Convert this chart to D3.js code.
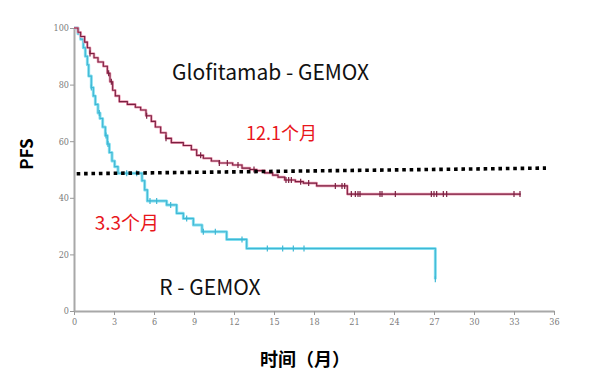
<!DOCTYPE html>
<html><head><meta charset="utf-8">
<script src="https://cdn.jsdelivr.net/npm/d3@7"></script>
<style>
html,body{margin:0;padding:0;background:#fff;}
svg{display:block;}
</style></head>
<body>
<svg id="chart" width="590" height="384"></svg>
<script>
// ---- data ----
const xTicks = [0,3,6,9,12,15,18,21,24,27,30,33,36];
const yTicks = [0,20,40,60,80,100];

const glofTime = [0,0.3,0.5,0.8,1.0,1.2,1.5,1.8,2.2,2.5,2.7,2.9,3.1,3.4,4.0,4.6,5.0,5.4,5.8,6.1,6.5,6.9,7.3,8.2,8.8,9.2,9.7,10.3,10.9,11.9,12.6,13.2,13.7,14.3,14.9,15.3,15.8,16.6,17.2,18.2,20.5,33.5];
const glofSurv = [100,98.5,97,95,93,91,89.5,88,86.5,84,81,78,76,74,73,72,71,69,67,65,63,61,59.5,58.5,57,55,54,53,52.3,51.6,50.5,50,49.6,48.8,48,47.3,46.3,45.7,45.2,44.2,41.3,41.3];
const glofCensor = [1.2,2.6,2.8,5.45,6.9,9.5,10.9,11.5,12.3,13.5,15.9,16.1,16.3,17.0,17.6,19.6,20.1,20.3,20.8,21.1,21.3,21.45,22.95,23.1,24.1,26.8,27.0,27.2,27.7,27.95,33.0,33.45];

const rTime = [0,0.3,0.5,0.7,0.85,1.0,1.1,1.3,1.45,1.6,1.8,1.95,2.15,2.35,2.5,2.65,2.85,3.05,3.3,5.1,5.3,5.5,6.95,7.7,8.2,8.95,9.6,11.45,12.95,27.1];
const rSurv = [100,98,96,93,90,87,83,79,76,73,70,68,65,62,59,56,53,51,48.7,46,42.8,38.9,37.5,34.5,32.7,30.4,28,25.3,22.1,11.2];
const rCensor = [1.3,1.9,2.4,2.55,3.95,4.7,5.7,6.2,7.25,8.45,9.7,10.6,12.6,14.5,15.65,16.45,17.25,27.1];

const medianLine = [[0.2,48.5],[35.4,50.5]];

const labels = [
  {text:"Glofitamab - GEMOX", t:7.35, s:81.8, color:"#111", size:21},
  {text:"12.1个月", t:12.9, s:60.3, color:"#e8161b", size:18},
  {text:"3.3个月", t:1.55, s:28.5, color:"#e8161b", size:19},
  {text:"R - GEMOX", t:6.4, s:5.7, color:"#111", size:21}
];
const yTitle = "PFS";
const xTitle = "时间（月）";

// ---- chart ----
const svg = d3.select("#chart");
const x = d3.scaleLinear().domain([0,36]).range([74,554]);
const y = d3.scaleLinear().domain([0,100]).range([311,28]);

// axes
const xAxis = svg.append("g").attr("transform","translate(0,311)")
  .call(d3.axisBottom(x).tickValues(xTicks).tickSize(4).tickSizeOuter(0));
const yAxis = svg.append("g").attr("transform","translate(74,0)")
  .call(d3.axisLeft(y).tickValues(yTicks).tickSize(4).tickSizeOuter(0));
[xAxis,yAxis].forEach(a=>{
  a.select(".domain").attr("stroke","#a8a8a8").attr("stroke-width",2);
  a.selectAll(".tick line").attr("stroke","#999").attr("stroke-width",1);
  a.selectAll(".tick text").attr("fill","#7a7a7a")
    .style("font-family","'DejaVu Serif Condensed','DejaVu Serif',serif")
    .style("font-stretch","condensed")
    .style("font-size","9px");
});
xAxis.selectAll(".tick text").attr("dy","1.0em").attr("y",5);
yAxis.selectAll(".tick text").attr("x",-5);

function stepLookup(times, surv, t){
  const i = d3.bisectRight(times, t) - 1;
  return surv[Math.max(0,i)];
}

const line = d3.line().x(d=>x(d[0])).y(d=>y(d[1])).curve(d3.curveStepAfter);

function drawCurve(times, surv, censor, halo, core, haloW){
  const pts = times.map((t,i)=>[t,surv[i]]);
  svg.append("path").datum(pts).attr("d",line).attr("fill","none")
    .attr("stroke",halo).attr("stroke-width",haloW).attr("stroke-linejoin","round");
  svg.append("path").datum(pts).attr("d",line).attr("fill","none")
    .attr("stroke",core).attr("stroke-width",1.1);
  svg.append("g").selectAll("line").data(censor).join("line")
    .attr("x1",d=>x(d)).attr("x2",d=>x(d))
    .attr("y1",d=>y(stepLookup(times,surv,d))-3)
    .attr("y2",d=>y(stepLookup(times,surv,d))+3)
    .attr("stroke",core).attr("stroke-width",1.2);
}

drawCurve(rTime, rSurv, rCensor, "#86dff0", "#3fb7d4", 3);
drawCurve(glofTime, glofSurv, glofCensor, "#ef9fb6", "#7a1f40", 2.6);

// median dotted line
svg.append("line")
  .attr("x1",x(medianLine[0][0])).attr("y1",y(medianLine[0][1]))
  .attr("x2",x(medianLine[1][0])).attr("y2",y(medianLine[1][1]))
  .attr("stroke","#000").attr("stroke-width",3.6)
  .attr("stroke-dasharray","3.6,3.8");

// labels
svg.append("g").selectAll("text").data(labels).join("text")
  .attr("x",d=>x(d.t)).attr("y",d=>y(d.s))
  .attr("fill",d=>d.color)
  .style("font-family","'Noto Sans CJK SC','Noto Sans',sans-serif")
  .style("font-size",d=>d.size+"px")
  .text(d=>d.text);

svg.append("text")
  .attr("transform","translate(33,154) rotate(-90)")
  .attr("text-anchor","middle")
  .style("font-family","'Noto Sans CJK SC','Noto Sans',sans-serif")
  .style("font-weight","bold").style("font-size","17px")
  .attr("fill","#000").text(yTitle);

svg.append("text")
  .attr("x",305).attr("y",366)
  .attr("text-anchor","middle")
  .style("font-family","'Noto Sans CJK SC','Noto Sans',sans-serif")
  .style("font-weight","bold").style("font-size","18px")
  .attr("fill","#000").text(xTitle);
</script>
</body></html>
